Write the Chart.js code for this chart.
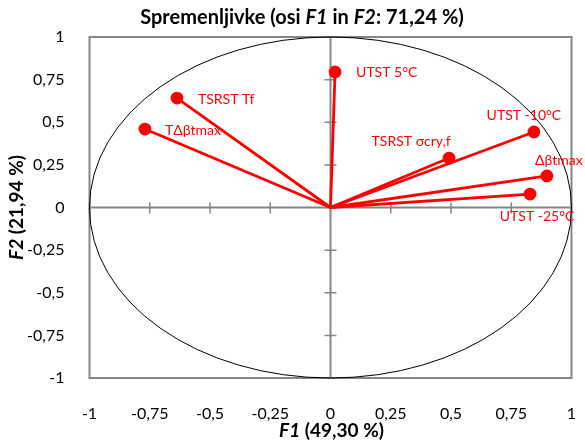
<!DOCTYPE html>
<html>
<head>
<meta charset="utf-8">
<script src="https://cdn.jsdelivr.net/npm/chart.js@4"></script>
<style>
  html, body { margin: 0; padding: 0; background: #fff; }
  #wrap { width: 585px; height: 443px; }
</style>
</head>
<body>
<div id="wrap"><canvas id="c"></canvas></div>
<script>
// Variables and their loadings on F1 / F2
const varNames = ["UTST 5°C", "TSRST Tf", "TΔβtmax", "TSRST σcry,f", "UTST -10°C", "Δβtmax", "UTST -25°C"];
const f1 = [0.019, -0.637, -0.770, 0.492, 0.844, 0.898, 0.828];
const f2 = [0.795, 0.642, 0.460, 0.290, 0.443, 0.185, 0.079];
const tickValues = [-1, -0.75, -0.5, -0.25, 0, 0.25, 0.5, 0.75, 1];

const FONT = "Lato, 'Open Sans', sans-serif";
const RED = "#ff0000";
const GREY = "#868686";

// label offsets in px from the point: [dx, dy, align]
const labelPlacement = [
  [21, 1, "left"],
  [21, 1, "left"],
  [20, 1, "left"],
  [-38, -17, "center"],
  [-10, -16, "center"],
  [12, -15, "center"],
  [7, 22, "center"],
];

function fmt(v) {
  return String(v).replace(".", ",");
}

function drawRich(ctx, parts, x, y, size) {
  let total = 0;
  parts.forEach((p) => {
    ctx.font = `${p[1] ? "italic " : ""}bold ${size}px ${FONT}`;
    total += ctx.measureText(p[0]).width;
  });
  let cx = x - total / 2;
  ctx.textAlign = "left";
  ctx.textBaseline = "middle";
  parts.forEach((p) => {
    ctx.font = `${p[1] ? "italic " : ""}bold ${size}px ${FONT}`;
    ctx.fillText(p[0], cx, y);
    cx += ctx.measureText(p[0]).width;
  });
}

const circlePlugin = {
  id: "circle",
  beforeDatasetsDraw(chart) {
    const { ctx, chartArea: a, scales: { x, y } } = chart;
    const x0 = x.getPixelForValue(0);
    const y0 = y.getPixelForValue(0);
    ctx.save();
    // frame
    ctx.strokeStyle = GREY;
    ctx.lineWidth = 2;
    ctx.strokeRect(a.left, a.top, a.right - a.left, a.bottom - a.top);
    // zero axes with tick marks
    ctx.beginPath();
    ctx.moveTo(a.left, y0);
    ctx.lineTo(a.right, y0);
    ctx.moveTo(x0, a.top);
    ctx.lineTo(x0, a.bottom);
    ctx.stroke();
    ctx.lineWidth = 1.5;
    ctx.beginPath();
    tickValues.forEach((v) => {
      const px = x.getPixelForValue(v);
      ctx.moveTo(px, y0 - 5);
      ctx.lineTo(px, y0 + 6);
      const py = y.getPixelForValue(v);
      ctx.moveTo(x0 - 6, py);
      ctx.lineTo(x0 + 6, py);
    });
    ctx.stroke();
    // unit circle
    ctx.strokeStyle = "#000";
    ctx.lineWidth = 1;
    ctx.beginPath();
    ctx.ellipse(x0, y0, x.getPixelForValue(1) - x0, y0 - y.getPixelForValue(1), 0, 0, Math.PI * 2);
    ctx.stroke();
    ctx.restore();
  },
  afterDraw(chart) {
    const { ctx, chartArea: a, scales: { x, y } } = chart;
    ctx.save();
    ctx.fillStyle = RED;
    ctx.font = `14px ${FONT}`;
    ctx.textBaseline = "middle";
    varNames.forEach((name, i) => {
      const [dx, dy, al] = labelPlacement[i];
      ctx.textAlign = al;
      ctx.fillText(name, x.getPixelForValue(f1[i]) + dx, y.getPixelForValue(f2[i]) + dy);
    });
    ctx.fillStyle = "#000";
    drawRich(ctx, [["Spremenljivke (osi ", false], ["F1", true], [" in ", false], ["F2", true], [": 71,24 %)", false]], 302, 18, 20);
    drawRich(ctx, [["F1", true], [" (49,30 %)", false]], (a.left + a.right) / 2 + 1, 431, 19);
    ctx.translate(17, (a.top + a.bottom) / 2);
    ctx.rotate(-Math.PI / 2);
    drawRich(ctx, [["F2", true], [" (21,94 %)", false]], 0, 0, 19);
    ctx.restore();
  },
};

const datasets = varNames.map((name, i) => ({
  label: name,
  data: [{ x: 0, y: 0 }, { x: f1[i], y: f2[i] }],
  showLine: true,
  borderColor: RED,
  backgroundColor: RED,
  borderWidth: 2.8,
  pointRadius: [0, 5],
  pointHoverRadius: [0, 5],
  clip: false,
}));

function useTickValues(scale) {
  scale.ticks = tickValues.map((v) => ({ value: v }));
}

new Chart(document.getElementById("c"), {
  type: "scatter",
  data: { datasets },
  options: {
    responsive: true,
    maintainAspectRatio: false,
    animation: false,
    layout: { padding: { left: 0, right: 13.5, top: 37, bottom: 0 } },
    plugins: {
      legend: { display: false },
      tooltip: { enabled: false },
      title: { display: false },
    },
    scales: {
      x: {
        min: -1,
        max: 1,
        afterBuildTicks: useTickValues,
        afterFit(s) { s.height = 65; s.paddingLeft = 0; s.paddingRight = 0; },
        grid: { display: false },
        border: { display: false },
        ticks: {
          color: "#000",
          font: { family: FONT, size: 16 },
          padding: 18,
          maxRotation: 0,
          autoSkip: false,
          callback: (v) => fmt(v),
        },
      },
      y: {
        min: -1,
        max: 1,
        afterBuildTicks: useTickValues,
        afterFit(s) { s.width = 89.5; s.paddingTop = 0; s.paddingBottom = 0; },
        grid: { display: false },
        border: { display: false },
        ticks: {
          color: "#000",
          font: { family: FONT, size: 16 },
          padding: 17,
          autoSkip: false,
          callback: (v) => fmt(v),
        },
      },
    },
  },
  plugins: [circlePlugin],
});
</script>
</body>
</html>
